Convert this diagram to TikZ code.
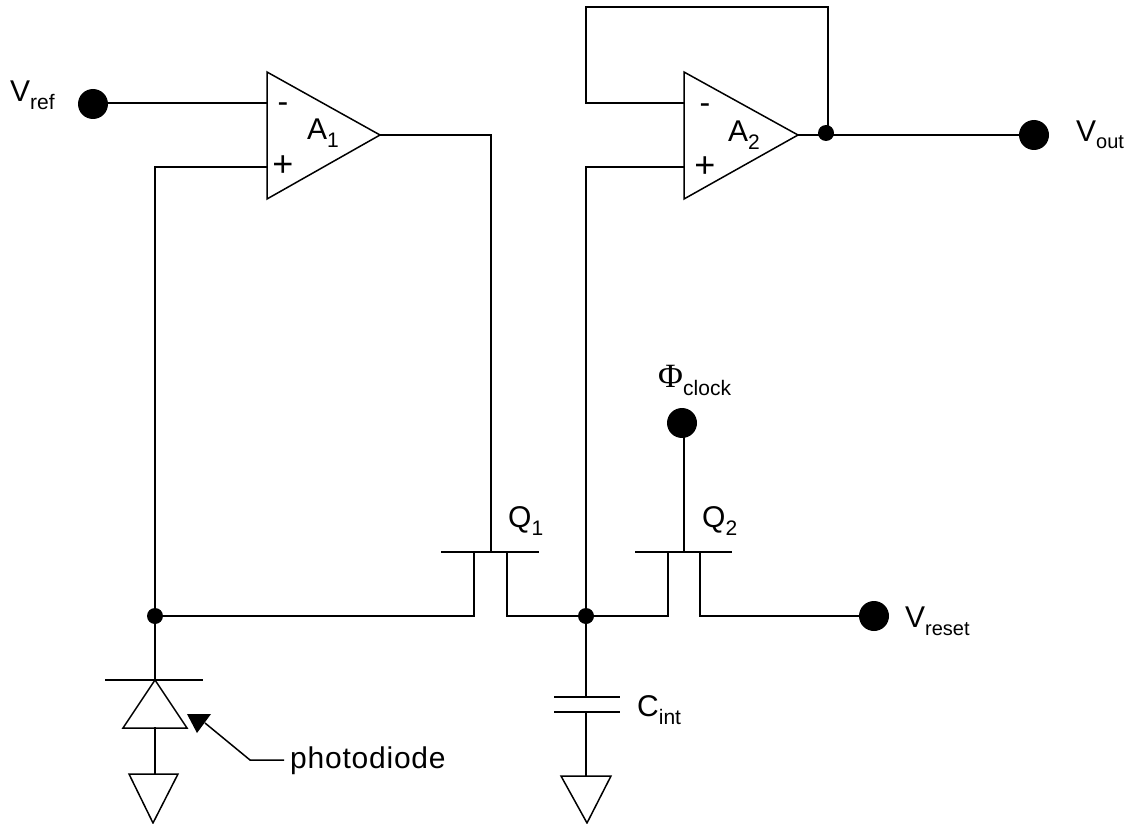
\documentclass[tikz,border=0pt]{standalone}
\usepackage{fontspec}
\setmainfont{Liberation Sans}
\newfontfamily\greekfont{Liberation Serif}
\newcommand{\bigsz}{\fontsize{30}{30}\selectfont}
\newcommand{\smallsz}{\fontsize{21}{21}\selectfont}
\newcommand{\lab}[2]{{\bigsz #1}\raisebox{-8pt}{\smallsz #2}}
\tikzset{
  wire/.style={draw=black,line width=1.8pt,line cap=rect,line join=miter},
  thin wire/.style={draw=black,line width=1.5pt,line join=miter},
  term/.style={circle,fill=black,inner sep=0pt,minimum size=30pt},
  junction/.style={circle,fill=black,inner sep=0pt,minimum size=16pt},
  lbl/.style={inner sep=0pt,anchor=base west,text=black},
  sgn/.style={inner sep=0pt,text=black},
}
\begin{document}
\begin{tikzpicture}[x=1pt,y=-1pt]
\useasboundingbox[fill=white] (0,0) rectangle (1128,824);
% terminals and junctions
\node[term] (vref) at (93,104) {};
\node[term] (vout) at (1034,135) {};
\node[term] (vreset) at (874,616) {};
\node[term] (clk) at (682,423) {};
\node[junction] (j1) at (155,616) {};
\node[junction] (j2) at (586,616) {};
\node[junction] (j3) at (826,133) {};
% named points
\coordinate (a1t) at (267,72); \coordinate (a1b) at (267,199); \coordinate (a1o) at (380,135);
\coordinate (a1m) at (267,103); \coordinate (a1p) at (267,167);
\coordinate (a2t) at (684,72); \coordinate (a2b) at (684,199); \coordinate (a2o) at (798,135);
\coordinate (a2m) at (684,103); \coordinate (a2p) at (684,167);
\coordinate (q1g) at (491,552); \coordinate (q2g) at (684,552);
\coordinate (c1) at (586,697); \coordinate (c2) at (586,712);
\coordinate (g2) at (586,776); \coordinate (g1) at (155,774);
\coordinate (da) at (155,680); \coordinate (dc) at (155,728);
\coordinate (tip) at (197,733); \coordinate (bend) at (250,760); \coordinate (lead) at (284,760);
% amplifiers
\draw[thin wire] (a1o) -- (a1t) -- (a1b) -- cycle;
\draw[thin wire] (a2o) -- (a2t) -- (a2b) -- cycle;
% amplifier wiring
\draw[wire] (vref.center |- a1m) -- (a1m);
\draw[wire] (j1.center) -- (155,167) -- (a1p);
\draw[wire] (a1o) -- (491,135) -- (q1g);
\draw[wire] (j2.center) -- (586,167) -- (a2p);
\draw[wire] (a2m) -- (586,103) -- (586,7) -- (828,7) -- (828,133);
\draw[wire] (a2o) -- (vout);
% transistors
\draw[wire] (442,552) -- (538,552);
\draw[wire] (636,552) -- (731,552);
\draw[wire] (j1) -- (474,616) -- (474,552);
\draw[wire] (507,552) -- (507,616) -- (j2);
\draw[wire] (j2) -- (668,616) -- (668,552);
\draw[wire] (700,552) -- (700,616) -- (vreset);
\draw[wire] (q2g |- clk.center) -- (q2g);
% capacitor and ground
\draw[wire] (j2.center) -- (c1);
\draw[wire] (555,697) -- (619,697);
\draw[wire] (555,712) -- (619,712);
\draw[wire] (c2) -- (g2);
\draw[thin wire] (561,776) -- (611,776) -- (587,823) -- cycle;
% photodiode
\draw[wire] (j1.center) -- (da);
\draw[wire] (106,680) -- (202,680);
\draw[thin wire] (da) -- (187,728) -- (123,728) -- cycle;
\draw[wire] (dc) -- (g1);
\draw[thin wire] (129,774) -- (178,774) -- (153,823) -- cycle;
% pointer
\fill[black] (tip) -- (187,714) -- (211,714) -- cycle;
\draw[thin wire] (205,723) -- (bend) -- (lead);
% labels
\node[lbl] (lvref) at (10,102) {\lab{V}{ref}};
\node[lbl] (lvout) at (1076,142) {{\bigsz V}\raisebox{-7pt}{\fontsize{20}{20}\selectfont out}};
\node[lbl] (lvreset) at (905,627) {{\bigsz V}\raisebox{-8pt}{\fontsize{20}{20}\selectfont reset}};
\node[lbl] (lclk) at (658,387) {\makebox[25pt][l]{\fontsize{34}{34}\greekfont\selectfont Φ}\raisebox{-8pt}{\smallsz clock}};
\node[lbl] (lq1) at (508,527) {\lab{Q}{1}};
\node[lbl] (lq2) at (702,527) {\lab{Q}{2}};
\node[lbl] (lcint) at (637,716) {\lab{C}{int}};
\node[lbl] (la1) at (307,140) {\lab{A}{1}};
\node[lbl] (la2) at (728,142) {\lab{A}{2}};
\node[lbl] (lpd) at (290,768) {\fontsize{30}{30}\selectfont\addfontfeature{LetterSpace=2.6}photodiode};
\node[sgn] (m1) at (283,108) {\fontsize{32}{32}\selectfont -};
\node[sgn] (p1) at (283,166) {\fontsize{36}{36}\selectfont +};
\node[sgn] (m2) at (705,109) {\fontsize{32}{32}\selectfont -};
\node[sgn] (p2) at (705,167) {\fontsize{36}{36}\selectfont +};
\end{tikzpicture}
\end{document}
